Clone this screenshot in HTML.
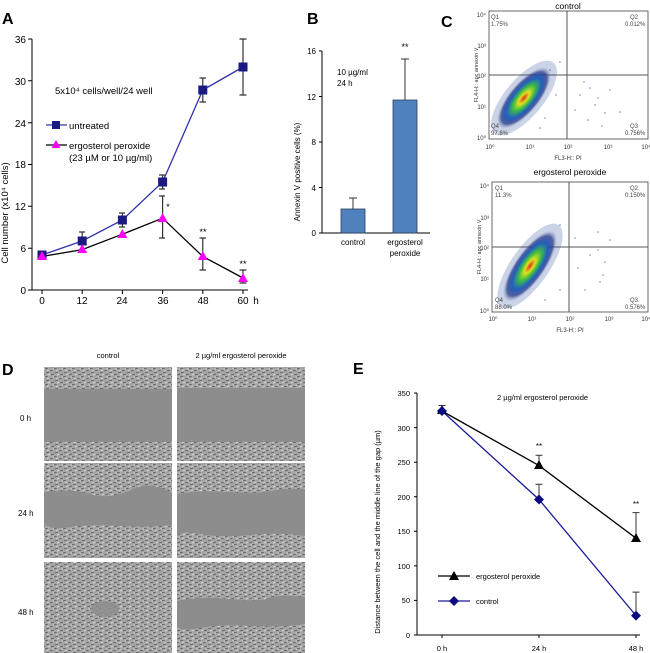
<!DOCTYPE html>
<html><head><meta charset="utf-8"><style>
html,body{margin:0;padding:0;background:#fff;}
svg{display:block;font-family:"Liberation Sans",Arial,sans-serif;}
</style></head><body>
<svg width="650" height="653" viewBox="0 0 650 653" xmlns="http://www.w3.org/2000/svg">
<defs>
<pattern id="cells" width="9" height="8" patternUnits="userSpaceOnUse">
<rect width="9" height="8" fill="#a6a6a6"/>
<path d="M0 1l3-1M5 3l3-1M1 5l3-1M6 7l3-1" stroke="#5a5a5a" stroke-width="0.9"/>
<path d="M2 3l2-1M7 1l2 0M3 7l2-1" stroke="#dedede" stroke-width="0.8"/>
</pattern>
<radialGradient id="cloud" cx="0.5" cy="0.5" r="0.5">
<stop offset="0" stop-color="#e03020"/>
<stop offset="0.2" stop-color="#e0e020"/>
<stop offset="0.4" stop-color="#40c040"/>
<stop offset="0.65" stop-color="#2060c0"/>
<stop offset="0.85" stop-color="#203080" stop-opacity="0.7"/>
<stop offset="1" stop-color="#8090c0" stop-opacity="0"/>
</radialGradient>
</defs>

<!-- Panel A -->
<text x="2" y="24" font-size="16" font-weight="bold">A</text>
<g stroke="#000" stroke-width="1" fill="none">
<line x1="32" y1="39" x2="32" y2="290"/>
<line x1="32" y1="290" x2="248" y2="290"/>
<path d="M28 39h4M28 80.8h4M28 122.7h4M28 164.5h4M28 206.3h4M28 248.2h4M28 290h4"/>
<path d="M42 290v4M82.2 290v4M122.4 290v4M162.6 290v4M202.8 290v4M243 290v4"/>
</g>
<g font-size="10" text-anchor="end">
<text x="26" y="43">36</text><text x="26" y="85">30</text><text x="26" y="127">24</text>
<text x="26" y="168">18</text><text x="26" y="210">12</text><text x="26" y="252">6</text><text x="26" y="294">0</text>
</g>
<g font-size="10" text-anchor="middle">
<text x="42" y="304">0</text><text x="82" y="304">12</text><text x="122" y="304">24</text>
<text x="163" y="304">36</text><text x="203" y="304">48</text><text x="243" y="304">60</text>
<text x="256" y="304">h</text>
</g>
<text transform="translate(8,213) rotate(-90)" font-size="9.5" text-anchor="middle">Cell number (x10⁴ cells)</text>
<text x="55" y="94" font-size="9.5">5x10⁴ cells/well/24 well</text>
<line x1="46" y1="125" x2="67" y2="125" stroke="#3333aa" stroke-width="1.3"/>
<rect x="52" y="121" width="8" height="8" fill="#1a1a80"/>
<text x="69" y="129" font-size="9.5">untreated</text>
<line x1="46" y1="145" x2="67" y2="145" stroke="#000" stroke-width="1.3"/>
<path d="M56 140l4.5 8h-9z" fill="#ff00ff"/>
<text x="69" y="149" font-size="9.5">ergosterol peroxide</text>
<text x="69" y="161" font-size="9.5">(23 µM or 10 µg/ml)</text>
<g stroke="#333" stroke-width="1.2">
<path d="M82.2 232v18M79 232h6M79 250h6"/>
<path d="M122.4 213v14M119 213h6M119 227h6"/>
<path d="M162.6 175v14M159 175h6M159 189h6"/>
<path d="M202.8 78v24M199.5 78h6.5M199.5 102h6.5"/>
<path d="M243 39v56M239.5 39h7M239.5 95h7"/>
<path d="M162.6 196v42M159 196h6M159 238h6"/>
<path d="M202.8 238v32M199.5 238h6.5M199.5 270h6.5"/>
<path d="M243 270v13M239.5 270h7M239.5 283h7"/>
</g>
<polyline points="42,255 82.2,241 122.4,220 162.6,182 202.8,90 243,67" fill="none" stroke="#3333aa" stroke-width="1.3"/>
<polyline points="42,256.5 82.2,249.6 122.4,234.2 162.6,218.2 202.8,256.5 243,278" fill="none" stroke="#000" stroke-width="1.3"/>
<g fill="#1a1a80">
<rect x="37.5" y="250.5" width="9" height="9"/><rect x="77.7" y="236.5" width="9" height="9"/>
<rect x="117.9" y="215.5" width="9" height="9"/><rect x="158.1" y="177.5" width="9" height="9"/>
<rect x="198.3" y="85.5" width="9" height="9"/><rect x="238.5" y="62.5" width="9" height="9"/>
</g>
<g fill="#ff00ff">
<path d="M42 251l5 9h-10z"/><path d="M82.2 244l5 9h-10z"/><path d="M122.4 229l5 9h-10z"/>
<path d="M162.6 213l5 9h-10z"/><path d="M202.8 251l5 9h-10z"/><path d="M243 273l5 9h-10z"/>
</g>
<g font-size="9" text-anchor="middle">
<text x="168" y="210">*</text><text x="203" y="235">**</text><text x="243" y="267">**</text>
</g>

<!-- Panel B -->
<text x="307" y="24" font-size="16" font-weight="bold">B</text>
<g stroke="#000" stroke-width="1">
<line x1="322" y1="51" x2="322" y2="233"/>
<line x1="322" y1="233" x2="430" y2="233"/>
<path d="M319 51h3M319 96.5h3M319 142h3M319 187.5h3M319 233h3"/>
</g>
<g font-size="8" text-anchor="end">
<text x="316" y="54">16</text><text x="316" y="100">12</text><text x="316" y="145">8</text>
<text x="316" y="191">4</text><text x="316" y="236">0</text>
</g>
<text transform="translate(300,172) rotate(-90)" font-size="8" text-anchor="middle">Annexin V positive cells (%)</text>
<path d="M353 198v11M349 198h8M405 59v41M401 59h8" stroke="#333" stroke-width="1"/>
<rect x="341" y="209" width="24" height="24" fill="#4f81bd" stroke="#2a3f60" stroke-width="0.8"/>
<rect x="393" y="100" width="24" height="133" fill="#4f81bd" stroke="#2a3f60" stroke-width="0.8"/>
<text x="405" y="50" font-size="9" text-anchor="middle">**</text>
<text x="337" y="75" font-size="8">10 µg/ml</text>
<text x="337" y="86" font-size="8">24 h</text>
<g font-size="8" text-anchor="middle">
<text x="353" y="245">control</text><text x="405" y="245">ergosterol</text><text x="405" y="256">peroxide</text>
</g>

<!-- Panel C -->
<text x="441" y="27" font-size="16" font-weight="bold">C</text>
<text x="568" y="9" font-size="8.5" text-anchor="middle">control</text>
<rect x="489" y="11" width="159" height="128" fill="none" stroke="#444" stroke-width="0.8"/>
<line x1="567" y1="11" x2="567" y2="139" stroke="#555"/><line x1="489" y1="75" x2="648" y2="75" stroke="#555"/>
<g transform="translate(524,98) rotate(-50)">
<ellipse rx="46" ry="19" fill="#3050a0" opacity="0.25"/>
<ellipse rx="38" ry="15" fill="url(#cloud)"/>
</g>
<g fill="#4050a0" opacity="0.7">
<circle cx="580" cy="95" r="0.8"/><circle cx="595" cy="105" r="0.8"/><circle cx="610" cy="90" r="0.8"/><circle cx="588" cy="120" r="0.8"/><circle cx="620" cy="112" r="0.8"/><circle cx="550" cy="70" r="0.8"/><circle cx="545" cy="118" r="0.8"/><circle cx="602" cy="126" r="0.8"/>
<circle cx="584" cy="82" r="0.8"/><circle cx="598" cy="98" r="0.8"/><circle cx="575" cy="110" r="0.8"/><circle cx="560" cy="62" r="0.8"/><circle cx="556" cy="95" r="0.8"/><circle cx="540" cy="128" r="0.8"/><circle cx="605" cy="113" r="0.8"/><circle cx="590" cy="88" r="0.8"/>
</g>
<g font-size="6" fill="#444">
<text x="491" y="19">Q1</text><text x="491" y="26">1.75%</text>
<text x="630" y="19">Q2</text><text x="625" y="26">0.012%</text>
<text x="491" y="128">Q4</text><text x="491" y="135">97.6%</text>
<text x="630" y="128">Q3</text><text x="625" y="135">0.756%</text>
</g>
<g font-size="6" fill="#333" text-anchor="end">
<text x="486" y="17">10⁴</text><text x="486" y="48">10³</text><text x="486" y="78">10²</text><text x="486" y="109">10¹</text><text x="486" y="140">10⁰</text>
</g>
<g font-size="6" fill="#333" text-anchor="middle">
<text x="490" y="149">10⁰</text><text x="530" y="149">10¹</text><text x="568" y="149">10²</text><text x="608" y="149">10³</text><text x="646" y="149">10⁴</text>
<text x="568" y="160">FL3-H:: PI</text>
</g>
<text transform="translate(478,75) rotate(-90)" font-size="5.5" fill="#333" text-anchor="middle">FL4-H:: apc annexin V</text>

<text x="570" y="175" font-size="8.5" text-anchor="middle">ergosterol peroxide</text>
<rect x="492" y="182" width="156" height="130" fill="none" stroke="#444" stroke-width="0.8"/>
<line x1="569" y1="182" x2="569" y2="312" stroke="#555"/><line x1="492" y1="247" x2="648" y2="247" stroke="#555"/>
<g transform="translate(530,266) rotate(-55)">
<ellipse rx="50" ry="19" fill="#3050a0" opacity="0.25"/>
<ellipse rx="42" ry="15" fill="url(#cloud)"/>
</g>
<g fill="#4050a0" opacity="0.7">
<circle cx="598" cy="250" r="0.8"/><circle cx="605" cy="262" r="0.8"/><circle cx="610" cy="240" r="0.8"/><circle cx="598" cy="232" r="0.8"/><circle cx="585" cy="290" r="0.8"/><circle cx="560" cy="225" r="0.8"/><circle cx="603" cy="275" r="0.8"/>
<circle cx="578" cy="268" r="0.8"/><circle cx="590" cy="255" r="0.8"/><circle cx="560" cy="290" r="0.8"/><circle cx="575" cy="238" r="0.8"/><circle cx="545" cy="300" r="0.8"/><circle cx="600" cy="282" r="0.8"/>
</g>
<g font-size="6" fill="#444">
<text x="495" y="190">Q1</text><text x="495" y="197">11.3%</text>
<text x="630" y="190">Q2</text><text x="625" y="197">0.150%</text>
<text x="495" y="302">Q4</text><text x="495" y="309">88.0%</text>
<text x="630" y="302">Q3</text><text x="625" y="309">0.576%</text>
</g>
<g font-size="6" fill="#333" text-anchor="end">
<text x="489" y="188">10⁴</text><text x="489" y="220">10³</text><text x="489" y="250">10²</text><text x="489" y="281">10¹</text><text x="489" y="313">10⁰</text>
</g>
<g font-size="6" fill="#333" text-anchor="middle">
<text x="493" y="321">10⁰</text><text x="532" y="321">10¹</text><text x="570" y="321">10²</text><text x="609" y="321">10³</text><text x="646" y="321">10⁴</text>
<text x="570" y="332">FL3-H:: PI</text>
</g>
<text transform="translate(481,247) rotate(-90)" font-size="5.5" fill="#333" text-anchor="middle">FL4-H:: apc annexin V</text>

<!-- Panel D -->
<text x="2" y="375" font-size="16" font-weight="bold">D</text>
<text x="108" y="358" font-size="7.5" text-anchor="middle">control</text>
<text x="241" y="358" font-size="7.5" text-anchor="middle">2 µg/ml ergosterol peroxide</text>
<text x="20" y="421" font-size="8">0 h</text>
<text x="18" y="516" font-size="8">24 h</text>
<text x="18" y="615" font-size="8">48 h</text>
<g>
<rect x="44" y="367" width="128" height="94" fill="url(#cells)"/>
<rect x="44" y="389" width="128" height="53" fill="#8d8d8d"/>
<rect x="177" y="367" width="128" height="94" fill="url(#cells)"/>
<rect x="177" y="388" width="128" height="54" fill="#8d8d8d"/>
<rect x="44" y="463" width="128" height="95" fill="url(#cells)"/>
<path d="M44 492 Q70 488 90 494 T130 490 T172 493 V525 Q150 528 120 526 T70 527 T44 524z" fill="#8d8d8d"/>
<rect x="177" y="463" width="128" height="95" fill="url(#cells)"/>
<path d="M177 494 Q200 490 230 492 T270 491 T305 489 V536 Q280 532 250 535 T200 534 T177 536z" fill="#8d8d8d"/>
<rect x="44" y="562" width="128" height="91" fill="url(#cells)"/>
<ellipse cx="105" cy="609" rx="14" ry="8" fill="#8d8d8d" opacity="0.85"/>
<rect x="177" y="562" width="128" height="91" fill="url(#cells)"/>
<path d="M177 601 Q200 596 230 599 T270 598 T305 597 V624 Q280 628 250 626 T200 628 T177 626z" fill="#8d8d8d"/>
</g>

<!-- Panel E -->
<text x="353" y="374" font-size="16" font-weight="bold">E</text>
<g stroke="#000" stroke-width="1">
<line x1="417" y1="393" x2="417" y2="635"/>
<line x1="417" y1="635" x2="640" y2="635"/>
<path d="M414 393h3M414 427.6h3M414 462.2h3M414 496.7h3M414 531.3h3M414 565.9h3M414 600.4h3M414 635h3"/>
<path d="M442 635v3M539 635v3M636 635v3"/>
</g>
<g font-size="7.5" text-anchor="end">
<text x="410" y="396">350</text><text x="410" y="431">300</text><text x="410" y="465">250</text>
<text x="410" y="500">200</text><text x="410" y="534">150</text><text x="410" y="569">100</text>
<text x="410" y="603">50</text><text x="410" y="638">0</text>
</g>
<g font-size="7.5" text-anchor="middle">
<text x="442" y="651">0 h</text><text x="539" y="651">24 h</text><text x="636" y="651">48 h</text>
</g>
<text transform="translate(380,532) rotate(-90)" font-size="7.5" text-anchor="middle">Distance between the cell and the middle line of the gap (µm)</text>
<text x="497" y="400" font-size="7.5">2 µg/ml  ergosterol peroxide</text>
<g stroke="#333" stroke-width="1">
<path d="M442 405.5v6M438.5 405.5h7"/>
<path d="M539 455.2v10M535.5 455.2h7"/>
<path d="M636 512.6v26M632.5 512.6h7"/>
<path d="M539 484.3v15M535.5 484.3h7"/>
<path d="M636 592.1v23M632.5 592.1h7"/>
</g>
<polyline points="442,411 539,465.6 636,538.2" fill="none" stroke="#000" stroke-width="1.3"/>
<polyline points="442,411 539,499.5 636,615.6" fill="none" stroke="#1a1a99" stroke-width="1.3"/>
<g fill="#000">
<path d="M442 405l5 9h-10z"/><path d="M539 460l5 9h-10z"/><path d="M636 533l5 9h-10z"/>
</g>
<g fill="#0a0a80">
<path d="M442 406l5 5-5 5-5-5z"/><path d="M539 494.5l5 5-5 5-5-5z"/><path d="M636 610.6l5 5-5 5-5-5z"/>
</g>
<g font-size="8" text-anchor="middle"><text x="539" y="449">**</text><text x="636" y="507">**</text></g>
<line x1="438" y1="576" x2="470" y2="576" stroke="#000" stroke-width="1.3"/>
<path d="M454 571l5 9h-10z" fill="#000"/>
<text x="476" y="579" font-size="7.5">ergosterol peroxide</text>
<line x1="438" y1="601" x2="470" y2="601" stroke="#1a1a99" stroke-width="1.3"/>
<path d="M454 596l5 5-5 5-5-5z" fill="#0a0a80"/>
<text x="476" y="604" font-size="7.5">control</text>
</svg>
</body></html>
